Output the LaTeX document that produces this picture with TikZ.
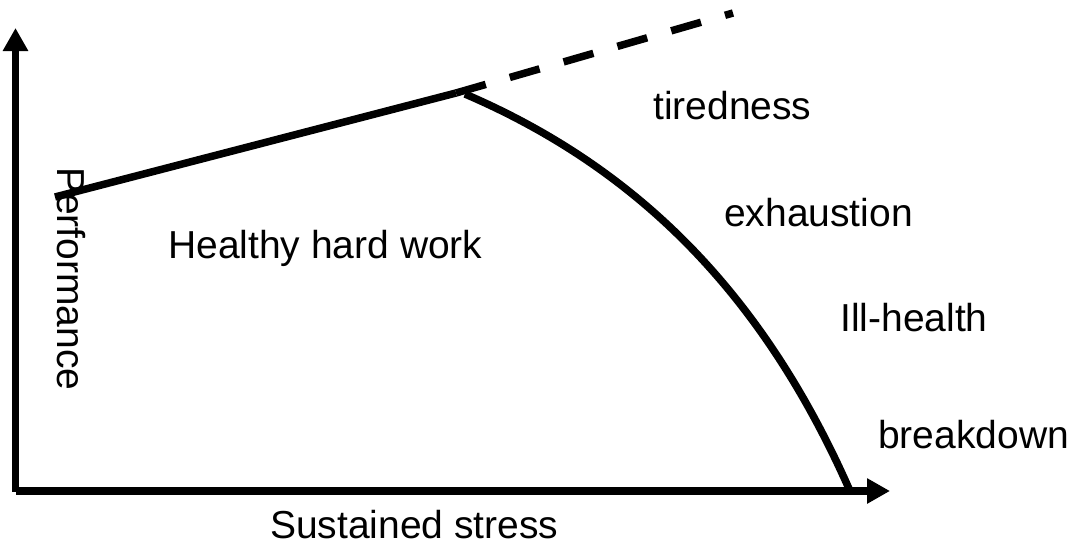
\documentclass[tikz,border=0pt]{standalone}
\usepackage{fontspec}
\setmainfont{Liberation Sans}
\usetikzlibrary{arrows.meta}
\begin{document}
\begin{tikzpicture}[x=1pt,y=-1pt,
  axisline/.style={line width=7.5pt,-{Triangle[length=23pt,width=24pt]}},
  thickline/.style={line width=7.5pt},
  dashline/.style={line width=7.5pt,dash pattern=on 31pt off 25pt},
  lbl/.style={anchor=base west,inner sep=0pt,font=\fontsize{39}{47}\selectfont}]
\useasboundingbox (0,0) rectangle (1080,550);
% axes
\coordinate (O) at (15.5,491);
\coordinate (ytop) at (15.5,28);
\coordinate (xend) at (890,491);
\draw[axisline] (15.5,491.5) -- (ytop);
\draw[axisline] (O) -- (xend);
% performance line
\coordinate (L0) at (55,197);
\coordinate (P) at (456,93);
\coordinate (D) at (733,13);
\draw[thickline] (L0) -- (P);
\draw[dashline] (P) -- (D);
% decline curve
\coordinate (C0) at (465,94);
\coordinate (C1) at (850,491);
\draw[thickline] (C0) .. controls (635,167) and (762,291) .. (C1);
% labels
\node[lbl] (tired) at (653,119) {tiredness};
\node[lbl] (exh) at (724,226) {exhaustion};
\node[lbl] (ill) at (840,331) {Ill-health};
\node[lbl] (brk) at (878,448) {breakdown};
\node[lbl] (hhw) at (168,258) {Healthy hard work};
\node[lbl] (xlab) at (270,538) {Sustained stress};
\node[lbl,rotate=-90] (ylab) at (57,167) {Performance};
\end{tikzpicture}
\end{document}
